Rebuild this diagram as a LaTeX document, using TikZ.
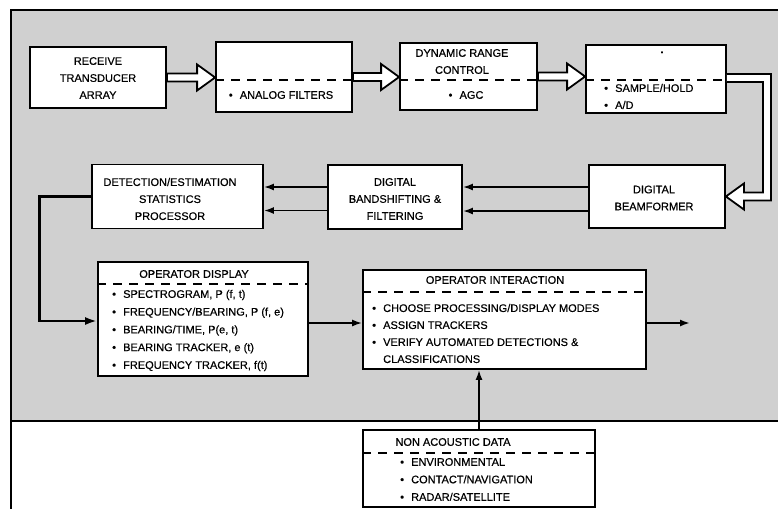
\documentclass[tikz,border=0pt]{standalone}
\usepackage{fontspec}
\setmainfont{Liberation Sans}[FakeBold=0.5]
\usetikzlibrary{calc,arrows.meta}
\definecolor{bggray}{RGB}{208,208,208}
\newcommand\bul{\makebox[11pt][l]{\textbullet}}
\newcommand\hollowarr[2]{%
  \draw[hol] let \p1=(#1), \p2=(#2) in
    (\x1,\y1+4pt) -- (\x2-18pt,\y1+4pt) -- (\x2-18pt,\y1+13pt) -- (\x2,\y1)
    -- (\x2-18pt,\y1-13pt) -- (\x2-18pt,\y1-4pt) -- (\x1,\y1-4pt) -- cycle;}
\tikzset{
  blk/.style={draw, line width=1.8pt, fill=white, inner sep=0pt},
  txt/.style={font=\fontsize{11}{17}\selectfont, inner sep=0pt, align=center},
  lst/.style={font=\fontsize{11}{17}\selectfont, inner sep=0pt, align=left, anchor=west},
  dsh/.style={line width=1.4pt, dash pattern=on 9pt off 7pt},
  arr/.style={line width=1.8pt, -{Latex[length=10pt,width=7pt]}},
  thk/.style={line width=2.8pt, -{Latex[length=12pt,width=8pt]}},
  hol/.style={line width=1.8pt, fill=white, line join=miter},
  frm/.style={line width=2.4pt},
}
\begin{document}
\begin{tikzpicture}[x=1pt,y=-1pt]
\useasboundingbox (0,0) rectangle (778,509);
\fill[bggray] (11,10) rectangle (778,421);
\draw[frm] (778,10) -- (11,10) -- (11,509);
\draw[frm] (11,421) -- (778,421);

% top row
\node[blk, minimum width=136, minimum height=61] (rta) at (98,77.5) {};
\node[txt] (rtat) at (98,78) {RECEIVE\\TRANSDUCER\\ARRAY};

\node[blk, minimum width=136, minimum height=70] (af) at (284,77) {};
\draw[dsh] ($(af.west)+(0,3)$) -- ($(af.east)+(0,3)$);
\node[txt] (aft) at (281,95) {\bul ANALOG FILTERS};

\node[blk, minimum width=137, minimum height=67] (drc) at (468.5,76.5) {};
\draw[dsh] ($(drc.west)+(0,3.5)$) -- ($(drc.east)+(0,3.5)$);
\node[txt] (drct) at (462,61.5) {DYNAMIC RANGE\\CONTROL};
\node[txt] (drcb) at (466,95) {\bul AGC};

\node[blk, minimum width=140, minimum height=68] (sh) at (656,79) {};
\draw[dsh] ($(sh.west)+(0,1)$) -- ($(sh.east)+(0,1)$);
\node[txt, font=\fontsize{7}{8}\selectfont] (shd) at (662,53) {\textbullet};
\node[lst] (shl) at (604,96.5) {\bul SAMPLE/HOLD\\\bul A/D};

\hollowarr{rta.east}{af.west}
\hollowarr{af.east}{drc.west}
\hollowarr{drc.east}{sh.west}

% middle row
\node[blk, minimum width=136, minimum height=63] (dbf) at (657,196.5) {};
\node[txt] (dbft) at (654,198) {DIGITAL\\BEAMFORMER};

\node[blk, minimum width=134, minimum height=64] (dbs) at (395,197) {};
\node[txt] (dbst) at (395,199) {DIGITAL\\BANDSHIFTING \&\\FILTERING};

\node[blk, minimum width=171, minimum height=64] (des) at (177.5,196.5) {};
\node[txt] (dest) at (170,199) {DETECTION/ESTIMATION\\STATISTICS\\PROCESSOR};

% L-shaped hollow connector sample/hold -> beamformer
\draw[hol] ($(sh.east)+(0,-5)$) -- ++(44,0) |- ($(dbf.east)+(18,4)$)
  -- ($(dbf.east)+(18,13)$) -- (dbf.east) -- ($(dbf.east)+(18,-13)$)
  -- ($(dbf.east)+(18,-4)$) -| ($(sh.east)+(36,3)$) -- ($(sh.east)+(0,3)$);

\draw[arr] ($(dbf.west)+(0,-9.5)$) coordinate (a1) -- (a1 -| dbs.east);
\draw[arr] ($(dbf.west)+(0,14.5)$) coordinate (a2) -- (a2 -| dbs.east);
\draw[arr] ($(dbs.west)+(0,-10)$) coordinate (b1) -- (b1 -| des.east);
\draw[arr] ($(dbs.west)+(0,13.5)$) coordinate (b2) -- (b2 -| des.east);

% bottom row
\node[blk, minimum width=210, minimum height=114] (opd) at (203,319) {};
\draw[dsh] ($(opd.west)+(0,-35)$) -- ($(opd.east)+(0,-35)$);
\node[txt] (opdt) at (194,274) {OPERATOR DISPLAY};
\node[lst, font=\fontsize{11}{17.75}\selectfont] (opdl) at (112,330.5)
  {\bul SPECTROGRAM, P (f, t)\\
   \bul FREQUENCY/BEARING, P (f, e)\\
   \bul BEARING/TIME, P(e, t)\\
   \bul BEARING TRACKER, e (t)\\
   \bul FREQUENCY TRACKER, f(t)};

\node[blk, minimum width=283, minimum height=99] (opi) at (504.5,319.5) {};
\draw[dsh] ($(opi.west)+(0,-27.5)$) -- ($(opi.east)+(0,-27.5)$);
\node[txt] (opit) at (495,280) {OPERATOR INTERACTION};
\node[lst] (opil) at (372,333.5)
  {\bul CHOOSE PROCESSING/DISPLAY MODES\\
   \bul ASSIGN TRACKERS\\
   \bul VERIFY AUTOMATED DETECTIONS \&\\
   \hspace*{11pt}CLASSIFICATIONS};

\node[blk, minimum width=232, minimum height=77] (nad) at (479,468.5) {};
\draw[dsh] ($(nad.west)+(0,-15.5)$) -- ($(nad.east)+(0,-15.5)$);
\node[txt] (nadt) at (453,442) {NON ACOUSTIC DATA};
\node[lst, font=\fontsize{11}{17.5}\selectfont] (nadl) at (400,479.5)
  {\bul ENVIRONMENTAL\\
   \bul CONTACT/NAVIGATION\\
   \bul RADAR/SATELLITE};

\draw[thk] (des.west) -- ++(-52,0) |- ($(opd.west)+(0,2)$);
\draw[arr] ($(opd.east)+(0,4)$) coordinate (c1) -- (c1 -| opi.west);
\coordinate (out) at (690,323);
\draw[arr] (opi.east |- out) -- (out);
\draw[arr] (nad.north) -- (opi.south -| nad.north);
\end{tikzpicture}
\end{document}
